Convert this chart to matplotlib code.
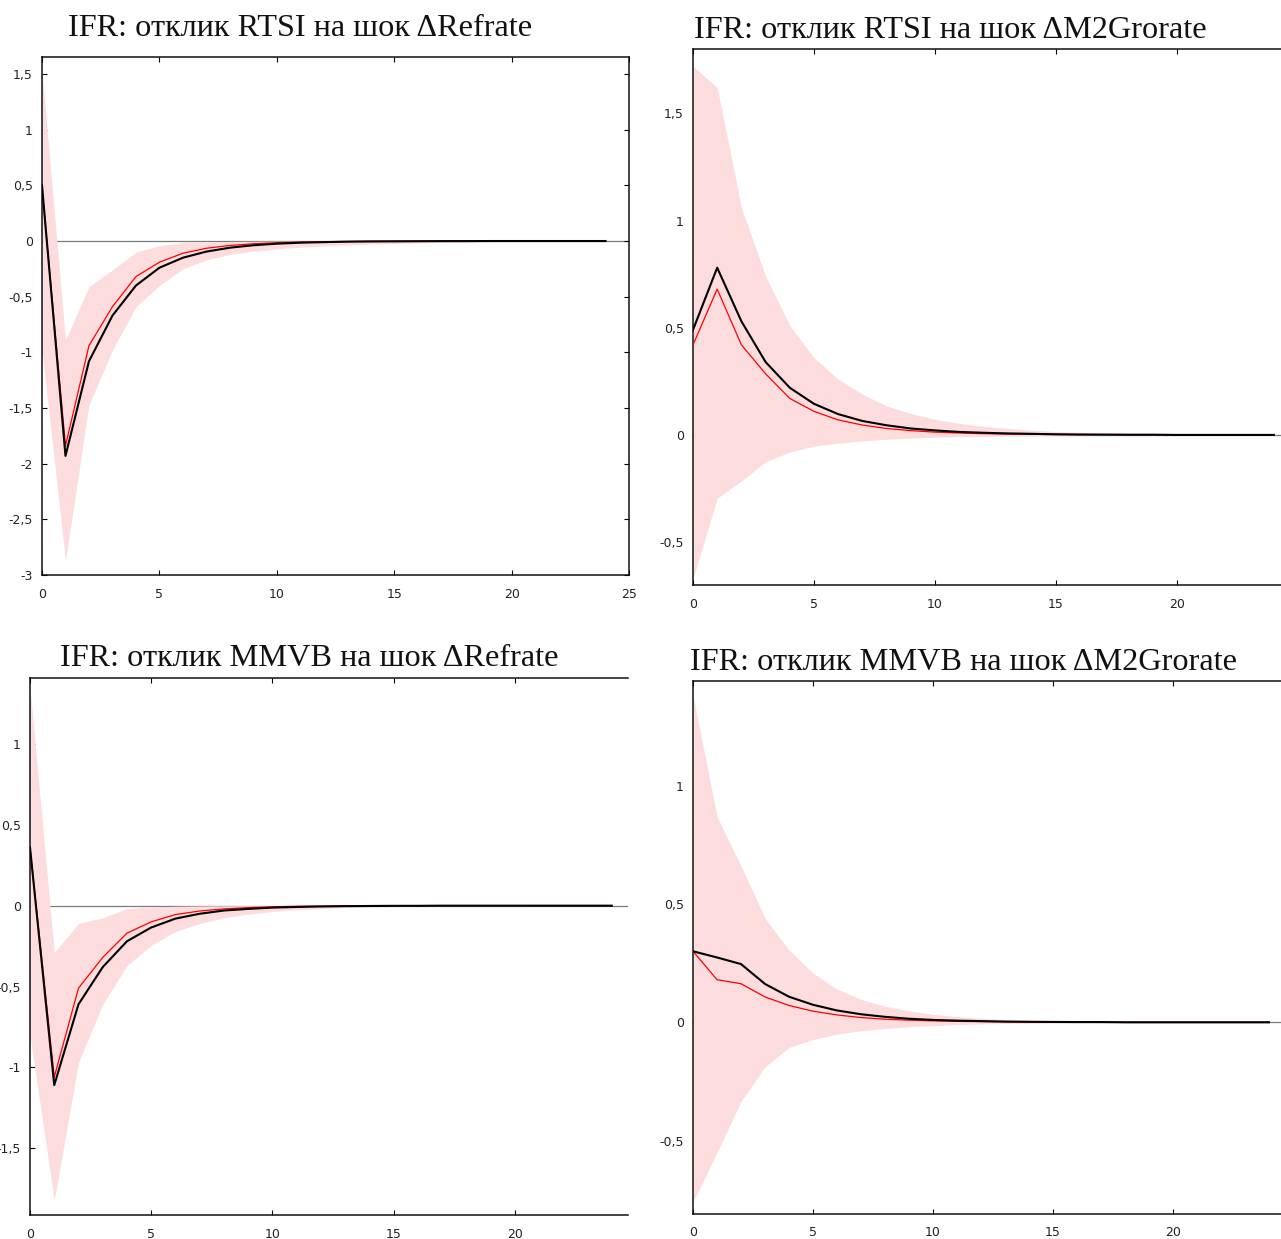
import matplotlib
matplotlib.use('Agg')
import matplotlib.pyplot as plt
from matplotlib.ticker import FuncFormatter, MultipleLocator

W, H = 1281, 1239

horizon = list(range(25))

# RTSI <- dRefrate
rtsi_ref_point = [0.50, -1.93, -1.08, -0.67, -0.40, -0.24, -0.15, -0.095, -0.06, -0.038,
                  -0.024, -0.015, -0.01, -0.006, -0.004, -0.003, -0.002, -0.001, -0.001,
                  0.0, 0.0, 0.0, 0.0, 0.0, 0.0]
rtsi_ref_median = [0.48, -1.84, -0.94, -0.59, -0.32, -0.19, -0.11, -0.065, -0.04, -0.025,
                   -0.015, -0.01, -0.006, -0.004, -0.002, -0.001, -0.001, 0.0, 0.0,
                   0.0, 0.0, 0.0, 0.0, 0.0, 0.0]
rtsi_ref_upper = [1.53, -0.89, -0.41, -0.26, -0.10, -0.04, -0.015, -0.008, -0.004, -0.002,
                  -0.001, -0.001, 0.0, 0.0, 0.0, 0.0, 0.0, 0.0, 0.0,
                  0.0, 0.0, 0.0, 0.0, 0.0, 0.0]
rtsi_ref_lower = [-0.98, -2.87, -1.47, -0.98, -0.59, -0.40, -0.25, -0.17, -0.12, -0.09,
                  -0.07, -0.055, -0.045, -0.035, -0.028, -0.022, -0.017, -0.013, -0.01,
                  -0.008, -0.006, -0.004, -0.003, -0.002, -0.001]

# RTSI <- dM2Grorate
rtsi_m2_point = [0.49, 0.78, 0.53, 0.34, 0.22, 0.145, 0.097, 0.065, 0.045, 0.03,
                 0.021, 0.014, 0.01, 0.007, 0.005, 0.003, 0.002, 0.0015, 0.001,
                 0.001, 0.0, 0.0, 0.0, 0.0, 0.0]
rtsi_m2_median = [0.42, 0.68, 0.42, 0.285, 0.17, 0.11, 0.07, 0.046, 0.03, 0.02,
                  0.013, 0.009, 0.006, 0.004, 0.003, 0.002, 0.001, 0.001, 0.0,
                  0.0, 0.0, 0.0, 0.0, 0.0, 0.0]
rtsi_m2_upper = [1.72, 1.62, 1.06, 0.74, 0.51, 0.36, 0.26, 0.19, 0.135, 0.10,
                 0.073, 0.054, 0.04, 0.03, 0.022, 0.016, 0.012, 0.009, 0.007,
                 0.005, 0.004, 0.003, 0.002, 0.002, 0.001]
rtsi_m2_lower = [-0.67, -0.295, -0.215, -0.125, -0.08, -0.052, -0.038, -0.028, -0.02, -0.015,
                 -0.011, -0.008, -0.006, -0.004, -0.003, -0.002, -0.002, -0.001, -0.001,
                 0.0, 0.0, 0.0, 0.0, 0.0, 0.0]

# MMVB <- dRefrate
mmvb_ref_point = [0.36, -1.11, -0.61, -0.38, -0.22, -0.135, -0.08, -0.05, -0.03, -0.02,
                  -0.012, -0.008, -0.005, -0.003, -0.002, -0.001, -0.001, 0.0, 0.0,
                  0.0, 0.0, 0.0, 0.0, 0.0, 0.0]
mmvb_ref_median = [0.36, -1.06, -0.51, -0.32, -0.17, -0.10, -0.055, -0.033, -0.02, -0.012,
                   -0.007, -0.004, -0.003, -0.002, -0.001, 0.0, 0.0, 0.0, 0.0,
                   0.0, 0.0, 0.0, 0.0, 0.0, 0.0]
mmvb_ref_upper = [1.35, -0.29, -0.11, -0.075, -0.018, -0.008, -0.004, -0.002, -0.001, 0.0,
                  0.0, 0.0, 0.0, 0.0, 0.0, 0.0, 0.0, 0.0, 0.0,
                  0.0, 0.0, 0.0, 0.0, 0.0, 0.0]
mmvb_ref_lower = [-0.80, -1.82, -0.97, -0.61, -0.37, -0.245, -0.16, -0.11, -0.075, -0.052,
                  -0.036, -0.025, -0.018, -0.012, -0.008, -0.006, -0.004, -0.003, -0.002,
                  -0.001, -0.001, 0.0, 0.0, 0.0, 0.0]

# MMVB <- dM2Grorate
mmvb_m2_point = [0.30, 0.274, 0.246, 0.162, 0.108, 0.074, 0.05, 0.034, 0.023, 0.015,
                 0.01, 0.007, 0.005, 0.003, 0.002, 0.0015, 0.001, 0.001, 0.0,
                 0.0, 0.0, 0.0, 0.0, 0.0, 0.0]
mmvb_m2_median = [0.30, 0.18, 0.163, 0.107, 0.071, 0.047, 0.031, 0.02, 0.013, 0.009,
                  0.006, 0.004, 0.003, 0.002, 0.001, 0.001, 0.0, 0.0, 0.0,
                  0.0, 0.0, 0.0, 0.0, 0.0, 0.0]
mmvb_m2_upper = [1.38, 0.87, 0.66, 0.44, 0.305, 0.208, 0.14, 0.097, 0.068, 0.048,
                 0.034, 0.024, 0.017, 0.012, 0.009, 0.006, 0.005, 0.003, 0.002,
                 0.002, 0.001, 0.001, 0.001, 0.0, 0.0]
mmvb_m2_lower = [-0.76, -0.55, -0.335, -0.188, -0.106, -0.073, -0.05, -0.036, -0.026, -0.019,
                 -0.014, -0.01, -0.007, -0.005, -0.004, -0.003, -0.002, -0.001, -0.001,
                 0.0, 0.0, 0.0, 0.0, 0.0, 0.0]

titles = [
    'IFR: отклик RTSI на шок ΔRefrate',
    'IFR: отклик RTSI на шок ΔM2Grorate',
    'IFR: отклик MMVB на шок ΔRefrate',
    'IFR: отклик MMVB на шок ΔM2Grorate',
]

BAND = '#fcdcdc'


def comma_fmt(v, pos):
    return f'{v:g}'.replace('.', ',')


def px_axes(fig, left, top, right, bottom):
    return fig.add_axes([left / W, 1 - bottom / H, (right - left) / W, (bottom - top) / H])


def draw_panel(ax, point, median, upper, lower, xlim, ylim, xticks, right_spine=True):
    ax.axhline(0, color='#7a7a7a', lw=0.9, zorder=1)
    ax.fill_between(horizon, lower, upper, color=BAND, lw=0, zorder=2)
    ax.plot(horizon, median, color='#ff0000', lw=0.9, zorder=3)
    ax.plot(horizon, point, color='black', lw=1.5, zorder=4)
    ax.set_xlim(*xlim)
    ax.set_ylim(*ylim)
    ax.set_xticks(xticks)
    ax.yaxis.set_major_locator(MultipleLocator(0.5))
    ax.xaxis.set_major_formatter(FuncFormatter(comma_fmt))
    ax.yaxis.set_major_formatter(FuncFormatter(comma_fmt))
    ax.tick_params(direction='in', length=3.5, width=0.8, labelsize=9,
                   labelcolor='#222222', top=True, right=right_spine)
    ax.tick_params(axis='y', pad=6.5)
    ax.tick_params(axis='x', pad=9)
    for side, sp in ax.spines.items():
        sp.set_linewidth(1.1)
        sp.set_color('#111111')
    if not right_spine:
        ax.spines['right'].set_visible(False)


fig = plt.figure(figsize=(W / 100, H / 100), dpi=100)

ax1 = px_axes(fig, 42, 57, 629, 575)
draw_panel(ax1, rtsi_ref_point, rtsi_ref_median, rtsi_ref_upper, rtsi_ref_lower,
           (0, 25), (-3.0, 1.653), [0, 5, 10, 15, 20, 25])

ax2 = px_axes(fig, 693, 49, 1298, 585)
draw_panel(ax2, rtsi_m2_point, rtsi_m2_median, rtsi_m2_upper, rtsi_m2_lower,
           (0, 25), (-0.70, 1.80), [0, 5, 10, 15, 20], right_spine=False)

ax3 = px_axes(fig, 30, 678, 628, 1215)
draw_panel(ax3, mmvb_ref_point, mmvb_ref_median, mmvb_ref_upper, mmvb_ref_lower,
           (0, 24.67), (-1.913, 1.408), [0, 5, 10, 15, 20], right_spine=False)

ax4 = px_axes(fig, 693, 681, 1293, 1214)
draw_panel(ax4, mmvb_m2_point, mmvb_m2_median, mmvb_m2_upper, mmvb_m2_lower,
           (0, 25), (-0.81, 1.442), [0, 5, 10, 15, 20], right_spine=False)

title_pos = [(68, 36.5), (694, 38.5), (60, 666), (690, 669.5)]
for (tx, ty), txt in zip(title_pos, titles):
    fig.text(tx / W, 1 - ty / H, txt, family='Liberation Serif', fontsize=23.2,
             ha='left', va='baseline', color='#111111')

fig.savefig('out.png', dpi=100, facecolor='white')
